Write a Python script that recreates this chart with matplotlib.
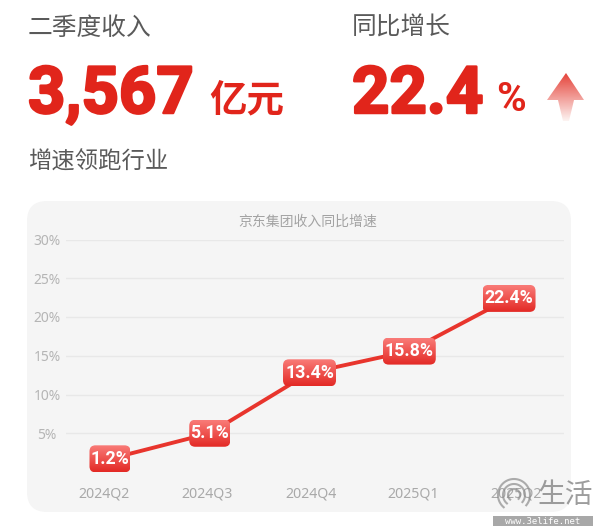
import numpy as np
import matplotlib
matplotlib.use('Agg')
import matplotlib.pyplot as plt
from matplotlib.colors import LinearSegmentedColormap
from matplotlib.patches import FancyBboxPatch, Polygon
import matplotlib.patheffects as pe

plt.rcParams['font.family'] = ['Noto Sans CJK SC', 'DejaVu Sans']

W, H = 593, 526
RED = '#e1251b'
GREY_HEAD = '#5a5a5a'
GREY_AXIS = '#a9a9a9'

quarters = ['2024Q2', '2024Q3', '2024Q4', '2025Q1', '2025Q2']
growth = [1.7, 5.0, 12.8, 15.6, 22.4]
point_labels = ['1.2%', '5.1%', '13.4%', '15.8%', '22.4%']
y_ticks = [5, 10, 15, 20, 25, 30]


def gradient_fill(ax, patch, extent, top, bottom):
    """Pinta um gradiente vertical recortado pelo patch."""
    cmap = LinearSegmentedColormap.from_list('g', [top, bottom])
    grad = np.linspace(0, 1, 64).reshape(-1, 1)
    im = ax.imshow(grad, cmap=cmap, extent=extent, aspect='auto',
                   interpolation='bilinear', zorder=patch.get_zorder() + 0.1)
    ax.add_patch(patch)
    im.set_clip_path(patch)
    ax.set_xlim(0, W)
    ax.set_ylim(H, 0)


fig = plt.figure(figsize=(W / 100, H / 100), dpi=100, facecolor='white')

# ---- fundo e cabeçalho, em coordenadas de pixel ----
bg = fig.add_axes([0, 0, 1, 1], zorder=0)
bg.set_xlim(0, W)
bg.set_ylim(H, 0)
bg.axis('off')

bg.add_patch(FancyBboxPatch((27 + 20, 201 + 20), 544 - 40, 311 - 40,
                            boxstyle='round,pad=20,rounding_size=20',
                            fc='#f5f5f5', ec='none'))

bg.text(28, 28, '二季度收入', fontsize=17.8, color=GREY_HEAD, va='center')
bg.text(352, 28, '同比增长', fontsize=17.8, color=GREY_HEAD, va='center')
bg.text(28, 162, '增速领跑行业', fontsize=16.8, color=GREY_HEAD, va='center')

thick = [pe.withStroke(linewidth=1.8, foreground=RED)]
bg.text(28, 113, '3,567', fontsize=47, family=['Roboto', 'DejaVu Sans'], weight='bold',
        color=RED, va='baseline', path_effects=thick)
bg.text(352, 113, '22.4', fontsize=47, family=['Roboto', 'DejaVu Sans'], weight='bold',
        color=RED, va='baseline', path_effects=thick)
bg.text(209, 111, '亿元', fontsize=27, weight='bold', color=RED, va='baseline')
bg.text(496, 111, '%', fontsize=29, family=['Roboto', 'DejaVu Sans'], weight='bold',
        color=RED, va='baseline')

arrow = Polygon([(566, 73), (584, 100), (574, 100), (569, 121), (563, 121), (558, 100), (547, 100)],
                closed=True, fc='none', ec='none')
gradient_fill(bg, arrow, (547, 584, 121, 73), '#e5443b', '#fdf3f1')

# ---- gráfico ----
ax = fig.add_axes([66 / W, 1 - 472 / H, (564 - 66) / W, (472 - 239.5) / H], zorder=1)
ax.patch.set_alpha(0)
x = np.arange(len(quarters))
ax.set_xlim(-0.441, 4.551)
ax.set_ylim(0, 30)
ax.set_yticks(y_ticks)
ax.set_yticklabels([f'{v}%' for v in y_ticks], ha='center', fontsize=10,
                   color='#b5b5b5', family=['Noto Sans', 'DejaVu Sans'])
ax.set_xticks([-0.06, 0.97, 2.015, 3.04, 4.07])
ax.set_xticklabels(quarters, fontsize=10.2, color=GREY_AXIS,
                   family=['Noto Sans', 'DejaVu Sans'])
ax.tick_params(axis='both', length=0)
ax.tick_params(axis='y', pad=13.5)
ax.tick_params(axis='x', pad=10.5)
for s in ax.spines.values():
    s.set_visible(False)
ax.grid(axis='y', color='#e8e8e8', linewidth=1)
ax.set_axisbelow(True)
ax.set_title('京东集团收入同比增速', fontsize=10, color='#a3a3a3', x=0.485, pad=10)
ax.plot(x, growth, color='#e8352d', linewidth=2.8, solid_capstyle='round', zorder=3)

# ---- etiquetas dos pontos e marca de água ----
top = fig.add_axes([0, 0, 1, 1], zorder=2)
top.set_xlim(0, W)
top.set_ylim(H, 0)
top.axis('off')
top.patch.set_alpha(0)

fig.canvas.draw()
for xi, yi, label in zip(x, growth, point_labels):
    px, py = ax.transData.transform((xi, yi))
    py = H - py
    w = 41 if len(label) == 4 else 53
    h = 27
    box = FancyBboxPatch((px - w / 2 + 6, py - h / 2 + 6), w - 12, h - 12,
                         boxstyle='round,pad=6,rounding_size=6', fc='none', ec='none', zorder=4)
    gradient_fill(top, box, (px - w / 2, px + w / 2, py + h / 2, py - h / 2), '#f97b78', '#e32a25')
    top.text(px, py, label, fontsize=12.8, color='white', ha='center', va='center', weight='bold',
             family=['Roboto', 'DejaVu Sans'], zorder=6)

# marca de água
wm = '#8c8c8c'
top.text(565, 495, '生活', fontsize=20, color=wm, alpha=0.85, ha='center', va='center', zorder=7)
for r in (6, 11, 16):
    t = np.radians(np.linspace(-40, 230, 60))
    top.plot(514 + r * np.cos(t), 495 - r * np.sin(t), color=wm, lw=1.5, alpha=0.7, zorder=7)
top.add_patch(plt.Rectangle((493, 516), 100, 10, fc='#a8a8a8', ec='none', zorder=7))
top.text(543, 521.5, 'www.3elife.net', fontsize=6.5, color='white', ha='center', va='center',
         family=['DejaVu Sans Mono'], zorder=8)

fig.savefig('out.png', dpi=100)
plt.close(fig)
